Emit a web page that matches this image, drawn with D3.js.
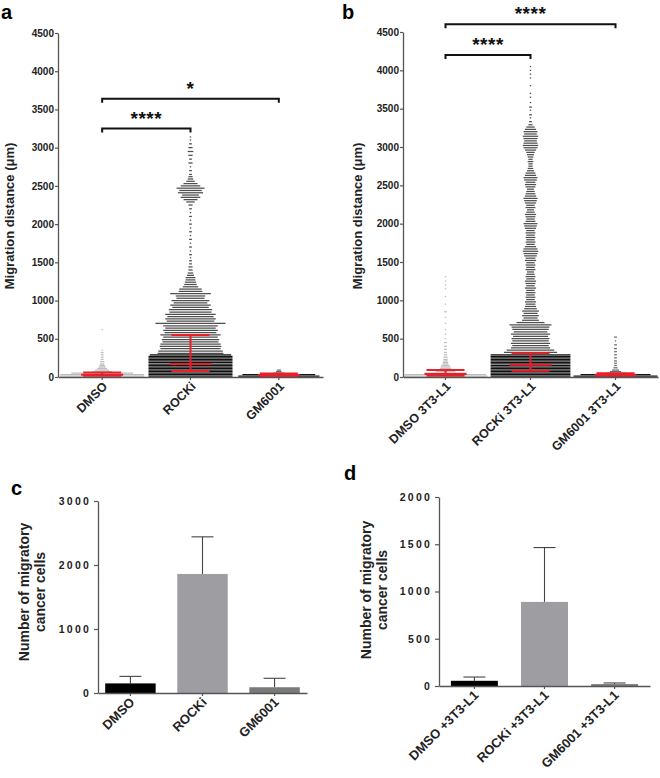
<!DOCTYPE html>
<html>
<head>
<meta charset="utf-8">
<script src="https://cdn.jsdelivr.net/npm/d3@7"></script>
<style>
body { margin: 0; background: #fff; }
svg { font-family: "Liberation Sans", Arial, sans-serif; }
</style>
</head>
<body>
<svg width="660" height="778"></svg>
<script>
// categories
const catsA = ['DMSO', 'ROCKi', 'GM6001'];
const catsB = ['DMSO 3T3-L1', 'ROCKi 3T3-L1', 'GM6001 3T3-L1'];
const catsC = ['DMSO', 'ROCKi', 'GM6001'];
const catsD = ['DMSO +3T3-L1', 'ROCKi +3T3-L1', 'GM6001 +3T3-L1'];

// tick labels
const ticksAB = [0, 500, 1000, 1500, 2000, 2500, 3000, 3500, 4000, 4500];
const ticksC = [0, 1000, 2000, 3000];
const ticksD = [0, 500, 1000, 1500, 2000];

// beeswarm rows: [distance (um), number of points in the row]
const swarmDmsoA = [[10,60],[30,60],[50,44],[70,14],[90,10],[110,7],[130,5],[150,4],[170,3],[200,3],[230,2],[260,2],[290,2],[320,2],[350,1],[620,1]];
const swarmRockiA = [[10,60],[30,60],[50,60],[70,60],[90,60],[110,60],[130,60],[150,60],[170,60],[190,60],[210,60],[230,60],[250,60],[270,60],[290,58],
  [310,47],[340,46],[370,43],[400,44],[430,43],[460,40],[490,41],[520,39],[550,43],[580,37],[610,39],[640,36],[670,39],[700,50],
  [730,34],[760,36],[790,33],[820,36],[850,30],[880,31],[910,26],[940,29],[970,24],[1000,27],[1030,20],[1060,21],[1090,29],
  [1120,17],[1150,16],[1180,11],[1210,9],[1240,8],[1270,7],[1300,7],[1330,5],[1360,4],[1400,3],[1440,3],[1480,2],[1520,2],
  [1560,1],[1600,2],[1650,1],[1700,2],[1750,1],[1800,2],[1850,1],[1900,2],[1950,1],[2000,2],[2050,1],[2100,2],[2150,1],[2200,2],[2250,3],
  [2290,6],[2320,10],[2350,14],[2380,12],[2410,18],[2440,16],[2470,20],[2500,14],[2530,10],[2560,6],[2590,4],[2620,3],[2650,2],
  [2700,2],[2750,1],[2800,3],[2850,2],[2900,3],[2950,4],[3000,3],[3050,2],[3100,1],[3140,1]];
const swarmGmA = [[10,58],[30,52],[50,8],[70,4],[90,3]];

const swarmDmsoB = [[10,60],[30,58],[50,30],[70,14],[90,10],[110,8],[130,7],[150,6],[170,4],[190,4],[210,3],[230,3],[260,3],[290,2],[320,2],[360,2],[400,2],[450,2],[500,1],[560,1],[620,1],[700,1],[780,1],[850,2],[950,1],[1050,1],[1150,1],[1200,1],[1250,1],[1310,1]];
const swarmRockiB = [[10,57],[30,57],[50,57],[70,57],[90,57],[110,57],[130,57],[150,57],[170,57],[190,57],[210,57],[230,57],[250,57],[270,57],[290,57],
  [320,38],[350,34],[380,28],[410,26],[440,28],[470,26],[500,27],[530,25],[560,28],[590,24],[620,26],[650,27],[680,30],
  [710,20],[740,12],[770,10],[800,12],[830,10],[860,12],[890,9],[920,8],[950,7],[980,8],[1010,6],[1040,7],[1070,6],[1100,7],[1130,6],[1160,8],
  [1190,6],[1220,7],[1250,8],[1280,6],[1310,7],[1340,6],[1370,5],[1400,7],[1430,6],[1460,7],[1490,6],[1520,8],[1550,7],[1580,9],[1610,10],
  [1640,11],[1670,10],[1700,8],[1730,6],[1760,7],[1790,6],[1820,7],[1850,6],[1880,7],[1910,6],[1940,8],[1970,9],[2000,10],[2030,7],[2060,6],
  [2090,7],[2120,8],[2150,6],[2180,5],[2210,7],[2240,6],[2270,8],[2300,9],[2330,10],[2360,8],[2390,7],[2420,6],[2450,5],[2480,7],[2510,8],
  [2540,7],[2570,9],[2600,10],[2630,8],[2660,7],[2690,5],[2720,4],[2750,3],[2780,3],[2810,4],[2840,3],[2870,4],[2900,5],[2930,6],[2960,8],
  [2990,10],[3020,11],[3050,10],[3080,9],[3110,10],[3140,11],[3170,9],[3200,10],[3230,8],[3260,6],[3290,3],[3330,2],[3380,1],[3420,2],
  [3480,1],[3520,2],[3580,1],[3650,1],[3700,1],[3800,1],[3900,1],[3950,1],[4000,1],[4050,1]];
const swarmGmB = [[10,60],[30,50],[50,14],[70,8],[90,5],[120,3],[150,2],[180,2],[210,2],[250,2],[290,2],[330,2],[370,2],[420,2],[470,1],[520,2]];

// red lines: lower quartile, median, upper quartile
const quartA = [[15, 30, 60], [80, 170, 550], [12, 25, 45]];
const quartB = [[15, 40, 90], [80, 160, 310], [15, 30, 50]];

// significance brackets: [from, to, height (um), label]
const bracketsA = [['DMSO', 'ROCKi', 3250, '****'], ['DMSO', 'GM6001', 3640, '*']];
const bracketsB = [['DMSO 3T3-L1', 'ROCKi 3T3-L1', 4200, '****'], ['DMSO 3T3-L1', 'GM6001 3T3-L1', 4600, '****']];

// bar charts: mean and SD
const meanC = [150, 1860, 90];
const sdC = [110, 580, 140];
const meanD = [55, 890, 20];
const sdD = [40, 575, 12];

const barColors = ['#000000', '#9e9ea2', '#7a7a7a'];
const dotStyle = [
  { base: '#c4c4c4', tail: '#bdbdbd', split: 0 },
  { base: '#111111', tail: '#4e4e4e', split: 300 },
  { base: '#111111', tail: '#6a6a6a', split: 50 }
];

const svg = d3.select('svg');
const axisColor = '#555';

function styleAxis(g, fontSize, spacing) {
  g.select('.domain').attr('stroke', axisColor).attr('stroke-width', 1.3);
  g.selectAll('.tick line').attr('stroke', axisColor).attr('stroke-width', 1.2);
  g.selectAll('.tick text')
    .attr('fill', '#222')
    .style('font-size', fontSize + 'px')
    .style('font-weight', 'bold')
    .style('letter-spacing', spacing + 'px');
}

function swarmPanel(o) {
  const x = d3.scaleBand().domain(o.cats).range([o.left, o.right]);
  const y = d3.scaleLinear().domain([0, 4500]).range([377, o.top]);

  // each row of the swarm drawn as a run of touching points
  o.swarm.forEach((rows, gi) => {
    const cx = x(o.cats[gi]) + x.bandwidth() / 2;
    const st = dotStyle[gi];
    svg.append('g').selectAll('line')
      .data(rows)
      .enter()
      .append('line')
      .attr('x1', d => cx - d[1] * 0.7)
      .attr('x2', d => cx + d[1] * 0.7)
      .attr('y1', d => y(d[0]))
      .attr('y2', d => y(d[0]))
      .attr('stroke', d => d[0] < st.split ? st.base : st.tail)
      .attr('stroke-width', 1.25);
  });

  // red quartile lines
  o.quart.forEach((q, gi) => {
    const cx = x(o.cats[gi]) + x.bandwidth() / 2;
    const g = svg.append('g').attr('stroke', '#e8202a').attr('stroke-width', 2);
    q.forEach((v, k) => {
      const hw = k === 1 ? 21 : 19;
      g.append('line').attr('x1', cx - hw).attr('x2', cx + hw).attr('y1', y(v)).attr('y2', y(v));
    });
    g.append('line').attr('x1', cx).attr('x2', cx).attr('y1', y(q[0])).attr('y2', y(q[2]));
  });

  // axes
  const ya = svg.append('g').attr('transform', `translate(${o.left},0)`)
    .call(d3.axisLeft(y).tickValues(ticksAB).tickFormat(d3.format('d')).tickSize(3).tickSizeOuter(0).tickPadding(1));
  styleAxis(ya, 10, 0);
  const xa = svg.append('g').attr('transform', `translate(0,377)`)
    .call(d3.axisBottom(x).tickSize(3).tickSizeOuter(0).tickFormat(''));
  styleAxis(xa, 10, 0);

  o.cats.forEach(c => {
    svg.append('text')
      .attr('transform', `translate(${x(c) + x.bandwidth() / 2 + 6},${387}) rotate(-45)`)
      .attr('text-anchor', 'end')
      .style('font-size', '12.5px')
      .style('font-weight', 'bold')
      .attr('fill', '#222')
      .text(c);
  });

  // y title
  svg.append('text')
    .attr('transform', `translate(${o.yTitleX},216) rotate(-90)`)
    .attr('text-anchor', 'middle')
    .style('font-size', '13px')
    .style('font-weight', 'bold')
    .attr('fill', '#222')
    .text('Migration distance (\u03bcm)');

  // brackets
  o.brackets.forEach(b => {
    const x1 = x(b[0]) + x.bandwidth() / 2;
    const x2 = x(b[1]) + x.bandwidth() / 2;
    const yy = y(b[2]);
    svg.append('path')
      .attr('d', `M${x1},${yy + 4}V${yy}H${x2}V${yy + 4}`)
      .attr('fill', 'none')
      .attr('stroke', '#111')
      .attr('stroke-width', 2);
    svg.append('text')
      .attr('x', (x1 + x2) / 2)
      .attr('y', yy - 4)
      .attr('text-anchor', 'middle')
      .style('font-size', '19px')
      .style('font-weight', 'bold')
      .style('letter-spacing', '0.5px')
      .attr('fill', '#111')
      .text(b[3]);
  });

  svg.append('text').attr('x', o.letterX).attr('y', o.letterY)
    .style('font-size', '20px').style('font-weight', 'bold').text(o.letter);
}

function barPanel(o) {
  const x = d3.scaleBand().domain(o.cats).range([o.left, o.right])
    .paddingInner(o.padIn).paddingOuter(o.padOut);
  const y = d3.scaleLinear().domain([0, o.max]).range([o.bottom, o.top]);

  o.mean.forEach((m, i) => {
    const cx = x(o.cats[i]) + x.bandwidth() / 2;
    const top = y(m + o.sd[i]);
    svg.append('line').attr('x1', cx).attr('x2', cx).attr('y1', y(m)).attr('y2', top)
      .attr('stroke', '#444').attr('stroke-width', 1.1);
    svg.append('line').attr('x1', cx - 11).attr('x2', cx + 11).attr('y1', top).attr('y2', top)
      .attr('stroke', '#444').attr('stroke-width', 1.1);
  });

  svg.append('g').selectAll('rect')
    .data(o.mean)
    .enter()
    .append('rect')
    .attr('x', (d, i) => x(o.cats[i]))
    .attr('y', d => y(d))
    .attr('width', x.bandwidth())
    .attr('height', d => o.bottom - y(d))
    .attr('fill', (d, i) => barColors[i]);

  const ya = svg.append('g').attr('transform', `translate(${o.left},0)`)
    .call(d3.axisLeft(y).tickValues(o.ticks).tickFormat(d3.format('d')).tickSize(4).tickSizeOuter(0).tickPadding(3));
  styleAxis(ya, 10.5, 2.2);
  const xa = svg.append('g').attr('transform', `translate(0,${o.bottom})`)
    .call(d3.axisBottom(x).tickSize(3).tickSizeOuter(0).tickFormat(''));
  styleAxis(xa, 10, 0);

  o.cats.forEach(c => {
    svg.append('text')
      .attr('transform', `translate(${x(c) + x.bandwidth() / 2 + 5},${o.bottom + 10}) rotate(-45)`)
      .attr('text-anchor', 'end')
      .style('font-size', '13px')
      .style('font-weight', 'bold')
      .attr('fill', '#222')
      .text(c);
  });

  const t = svg.append('text')
    .attr('transform', `translate(${o.yTitleX},${o.yTitleY}) rotate(-90)`)
    .attr('text-anchor', 'middle')
    .style('font-size', '14px')
    .style('font-weight', 'bold')
    .attr('fill', '#222');
  t.append('tspan').attr('x', 0).attr('dy', 0).text('Number of migratory');
  t.append('tspan').attr('x', 0).attr('dy', 16).text('cancer cells');

  svg.append('text').attr('x', o.letterX).attr('y', o.letterY)
    .style('font-size', '20px').style('font-weight', 'bold').text(o.letter);
}

swarmPanel({ cats: catsA, swarm: [swarmDmsoA, swarmRockiA, swarmGmA], quart: quartA, brackets: bracketsA,
  left: 58, right: 323, top: 33, yTitleX: 14, letter: 'a', letterX: 1, letterY: 19 });
swarmPanel({ cats: catsB, swarm: [swarmDmsoB, swarmRockiB, swarmGmB], quart: quartB, brackets: bracketsB,
  left: 403, right: 658, top: 32, yTitleX: 362, letter: 'b', letterX: 342, letterY: 19 });

barPanel({ cats: catsC, mean: meanC, sd: sdC, ticks: ticksC, max: 3000, left: 98, right: 307, top: 501, bottom: 693,
  padIn: 0.3, padOut: 0.1, yTitleX: 29, yTitleY: 592, letter: 'c', letterX: 11, letterY: 495 });
barPanel({ cats: catsD, mean: meanD, sd: sdD, ticks: ticksD, max: 2000, left: 439, right: 650, top: 497, bottom: 686,
  padIn: 0.33, padOut: 0.17, yTitleX: 371, yTitleY: 590, letter: 'd', letterX: 344, letterY: 480 });
</script>
</body>
</html>
